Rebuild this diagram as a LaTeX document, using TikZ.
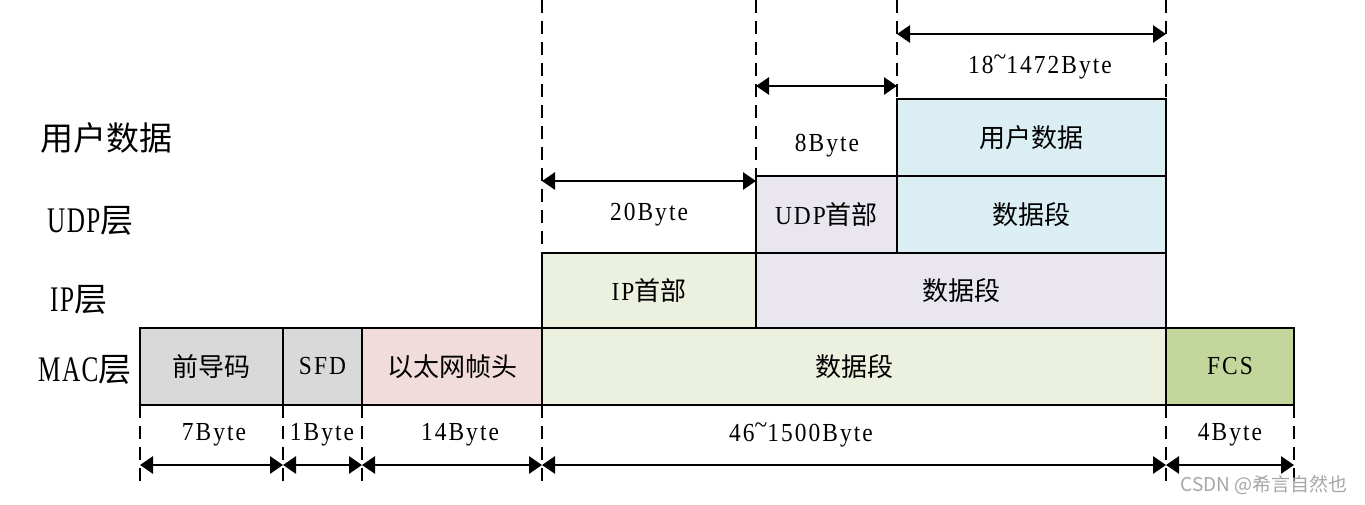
\documentclass[tikz,border=0pt]{standalone}
\usepackage{fontspec}
\setmainfont{Liberation Serif}[FakeStretch=0.9,LetterSpace=8]
\newfontfamily\cjk{Noto Sans CJK SC}
\newfontfamily\narrowlat{Liberation Serif}[FakeStretch=0.7,LetterSpace=4]
\usetikzlibrary{arrows.meta}
\definecolor{cgray}{HTML}{D9D9D9}
\definecolor{cpink}{HTML}{F2DCDB}
\definecolor{cgreen}{HTML}{EBF1DE}
\definecolor{cfcs}{HTML}{C3D69B}
\definecolor{clav}{HTML}{E9E6EF}
\definecolor{cblue}{HTML}{DAEEF3}
\newcommand{\tld}{\raisebox{0.3em}{\textasciitilde}}
\begin{document}
\begin{tikzpicture}[x=1pt,y=-1pt,
  box/.style={draw, line width=2.8pt, inner sep=0pt, outer sep=0pt, anchor=north west,
    minimum height=77pt, font=\fontsize{26}{26}\selectfont},
  guideline/.style={line width=2.2pt, dash pattern=on 13pt off 8pt},
  dimline/.style={line width=2.8pt, {Triangle[length=13pt,width=17pt]}-{Triangle[length=13pt,width=17pt]}},
  dimlabel/.style={inner sep=0pt, font=\fontsize{26}{26}\selectfont},
  layerlabel/.style={inner sep=0pt, anchor=west, font=\fontsize{33}{33}\selectfont}]
\useasboundingbox (0,0) rectangle (1365,504);

\coordinate (ta) at (542,0);
\coordinate (tb) at (756,0);
\coordinate (tc) at (897,0);
\coordinate (td) at (1166,0);
\coordinate (ba) at (140,482);
\coordinate (bb) at (283,482);
\coordinate (bc) at (362,482);
\coordinate (bd) at (542,482);
\coordinate (be) at (1166,482);
\coordinate (bf) at (1294,482);

% MAC layer
\node[box, fill=cgray, minimum width=143pt] (mac1) at (140,328) {\cjk 前导码};
\node[box, fill=cgray, minimum width=79pt] (mac2) at (283,328) {SFD};
\node[box, fill=cpink, minimum width=180pt] (mac3) at (362,328) {\cjk 以太网帧头};
\node[box, fill=cgreen, minimum width=624pt] (mac4) at (542,328) {\cjk 数据段};
\node[box, fill=cfcs, minimum width=128pt] (mac5) at (1166,328) {FCS};
% IP layer
\node[box, fill=cgreen, minimum width=214pt, minimum height=75pt] (ip1) at (542,253) {IP{\cjk 首部}};
\node[box, fill=clav, minimum width=410pt, minimum height=75pt] (ip2) at (756,253) {\cjk 数据段};
% UDP layer
\node[box, fill=clav, minimum width=141pt] (udp1) at (756,176) {UDP{\cjk 首部}};
\node[box, fill=cblue, minimum width=269pt] (udp2) at (897,176) {\cjk 数据段};
% user data
\node[box, fill=cblue, minimum width=269pt] (usr) at (897,99) {\cjk 用户数据};

% dashed guides
\draw[guideline] (ta) -- (ip1.north west);
\draw[guideline] (tb) -- (udp1.north west);
\draw[guideline] (tc) -- (usr.north west);
\draw[guideline] (td) -- (usr.north east);
\draw[guideline] (mac1.south west) -- (ba);
\draw[guideline] (mac2.south west) -- (bb);
\draw[guideline] (mac3.south west) -- (bc);
\draw[guideline] (mac4.south west) -- (bd);
\draw[guideline] (mac5.south west) -- (be);
\draw[guideline] (mac5.south east) -- (bf);

% layer labels
\node[layerlabel] (l1) at (40,138) {\cjk 用户数据};
\node[layerlabel] (l2) at (47,221) {{\narrowlat\fontsize{36}{36}\selectfont UDP}{\cjk 层}};
\node[layerlabel] (l3) at (50,300) {{\narrowlat\fontsize{36}{36}\selectfont IP}{\cjk 层}};
\node[layerlabel] (l4) at (38,370) {{\narrowlat\fontsize{36}{36}\selectfont MAC}{\cjk 层}};

% top dimension arrows
\coordinate (a1) at (542,181); \coordinate (a2) at (756,181);
\draw[dimline] (a1) -- (a2);
\node[dimlabel] (d20) at (649,215) {20Byte};
\coordinate (b1) at (756,86); \coordinate (b2) at (897,86);
\draw[dimline] (b1) -- (b2);
\node[dimlabel] (d8) at (827,146) {8Byte};
\coordinate (c1) at (897,34); \coordinate (c2) at (1166,34);
\draw[dimline] (c1) -- (c2);
\node[dimlabel] (d18) at (1040,67) {18\tld1472Byte};

% bottom dimension arrows
\coordinate (p1) at (140,465); \coordinate (p2) at (283,465);
\coordinate (p3) at (362,465); \coordinate (p4) at (542,465);
\coordinate (p5) at (1166,465); \coordinate (p6) at (1294,465);
\draw[dimline] (p1) -- (p2);
\draw[dimline] (p2) -- (p3);
\draw[dimline] (p3) -- (p4);
\draw[dimline] (p4) -- (p5);
\draw[dimline] (p5) -- (p6);
\node[dimlabel] (e1) at (214,435) {7Byte};
\node[dimlabel] (e2) at (322,435) {1Byte};
\node[dimlabel] (e3) at (460,435) {14Byte};
\node[dimlabel] (e4) at (801,435) {46\tld1500Byte};
\node[dimlabel] (e5) at (1230,435) {4Byte};

% watermark
\node[inner sep=0pt, text=black!35, font=\cjk\fontsize{19}{19}\selectfont] (wm) at (1264,485) {CSDN @希言自然也};
\end{tikzpicture}
\end{document}
